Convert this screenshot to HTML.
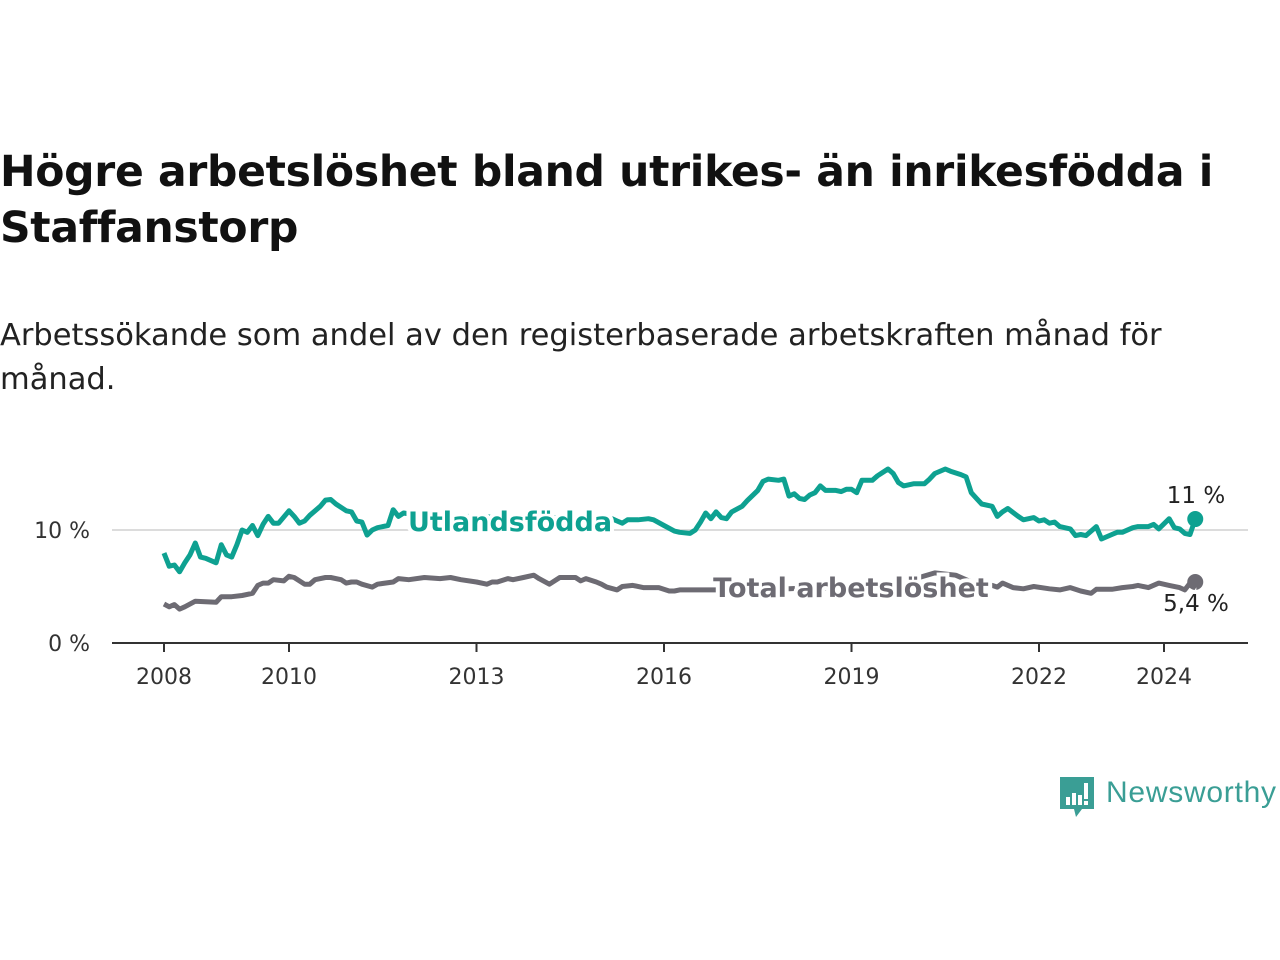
<!DOCTYPE html>
<html><head><meta charset="utf-8"><style>
body{margin:0;background:#fff;width:1280px;height:960px;overflow:hidden;font-family:"DejaVu Sans","Liberation Sans",sans-serif;}
#title{position:absolute;left:0;top:145px;font-size:42.5px;font-weight:bold;color:#111;line-height:56px;letter-spacing:-0.3px;width:1275px;margin:0}
#sub{position:absolute;left:0;top:314px;font-size:30.5px;color:#222;line-height:44px;width:1190px;margin:0}
svg{position:absolute;left:0;top:0}
</style></head><body>
<h1 id="title">Högre arbetslöshet bland utrikes- än inrikesfödda i Staffanstorp</h1>
<p id="sub">Arbetssökande som andel av den registerbaserade arbetskraften månad för månad.</p>
<svg id="chart" width="1280" height="960"></svg>
<script>
const tealMonths=[0,1,2,3,4,5,6,7,8,10,11,12,13,14,15,16,17,18,19,20,21,22,24,25,26,27,28,30,31,32,33,35,36,37,38,39,40,41,43,44,45,46,50,55,60,65,70,75,80,84,86,87,88,89,91,93,94,96,98,99,101,102,103,104,105,106,107,108,109,111,112,114,115,116,118,119,120,121,122,123,124,125,126,127,129,130,131,132,133,134,136,137,138,139,140,141,142,144,146,147,148,150,151,153,154,155,156,157,159,160,161,162,164,165,167,168,169,170,171,172,174,175,176,177,178,179,180,182,183,184,186,187,189,190,191,193,194,195,196,197,198];
const tealValues=[7.96,6.8,6.9,6.3,7.1,7.8,8.85,7.6,7.5,7.1,8.7,7.8,7.6,8.7,10.0,9.8,10.4,9.5,10.5,11.2,10.6,10.6,11.7,11.2,10.6,10.8,11.3,12.1,12.65,12.7,12.3,11.7,11.6,10.8,10.7,9.55,10.0,10.2,10.4,11.8,11.2,11.5,11.2,11.0,11.3,11.0,10.8,11.1,10.9,10.6,11.0,10.8,10.6,10.9,10.9,11.0,10.9,10.4,9.9,9.8,9.7,10.0,10.7,11.5,11.0,11.6,11.1,11.0,11.6,12.1,12.6,13.5,14.3,14.5,14.4,14.5,13.0,13.2,12.8,12.7,13.1,13.3,13.9,13.5,13.5,13.4,13.6,13.6,13.3,14.4,14.4,14.8,15.1,15.4,15.0,14.2,13.9,14.1,14.1,14.5,15.0,15.4,15.2,14.9,14.7,13.3,12.8,12.3,12.1,11.2,11.6,11.9,11.2,10.9,11.1,10.8,10.9,10.6,10.7,10.3,10.1,9.5,9.6,9.5,9.9,10.3,9.2,9.6,9.8,9.8,10.2,10.3,10.3,10.5,10.1,11.0,10.2,10.1,9.7,9.6,10.97];
const totalMonths=[0,1,2,3,4,6,10,11,13,15,17,18,19,20,21,23,24,25,27,28,29,31,32,34,35,36,37,38,40,41,44,45,47,50,53,55,57,60,62,63,64,66,67,69,71,72,74,76,79,80,81,83,84,85,87,88,90,92,93,95,97,98,99,103,106,110,115,120,125,130,135,141,145,148,152,157,159,160,161,163,165,167,170,172,174,176,178,179,182,184,186,187,189,191,193,195,196,197,198];
const totalValues=[3.45,3.2,3.4,3.0,3.2,3.7,3.6,4.1,4.1,4.2,4.4,5.1,5.3,5.3,5.6,5.5,5.9,5.8,5.2,5.2,5.6,5.8,5.8,5.6,5.3,5.4,5.4,5.2,4.95,5.2,5.4,5.7,5.6,5.8,5.7,5.8,5.6,5.4,5.2,5.4,5.4,5.7,5.6,5.8,6.0,5.7,5.2,5.8,5.8,5.5,5.7,5.4,5.2,4.95,4.7,5.0,5.1,4.9,4.9,4.9,4.6,4.6,4.7,4.7,4.7,4.8,4.9,4.8,4.9,4.8,4.9,5.3,5.8,6.2,6.0,5.0,5.1,4.95,5.3,4.9,4.8,5.0,4.8,4.7,4.9,4.6,4.4,4.75,4.75,4.9,5.0,5.1,4.9,5.3,5.1,4.9,4.7,5.3,5.4];
const yTicks=[0,10];
const yTickLabels=["0 %","10 %"];
const xTickYears=[2008,2010,2013,2016,2019,2022,2024];
const NS='http://www.w3.org/2000/svg';
const svg=document.getElementById('chart');
const x=m=>164+m*62.5/12;
const xy=yr=>164+(yr-2008)*62.5;
const y=v=>643-v*11.3;
function mk(t,a,txt){const e=document.createElementNS(NS,t);for(const k in a)e.setAttribute(k,a[k]);if(txt!=null)e.textContent=txt;svg.appendChild(e);return e;}
yTicks.forEach((v,i)=>{
 if(v>0){const g=mk('line',{x1:112,x2:1248,y1:y(v),y2:y(v),stroke:'#dcdcdc','stroke-width':2});
 
 }
 const t=mk('text',{x:90,y:y(v)+8,'text-anchor':'end','font-size':22,fill:'#333','font-family':'DejaVu Sans,sans-serif'},yTickLabels[i]);
 
 
});
const ax=mk('line',{x1:112,x2:1248,y1:643,y2:643,stroke:'#333','stroke-width':2});


xTickYears.forEach(yr=>{
 const tk=mk('line',{x1:xy(yr),x2:xy(yr),y1:643,y2:652,stroke:'#333','stroke-width':2});
 
 
 const t=mk('text',{x:xy(yr),y:684,'text-anchor':'middle','font-size':22,fill:'#333','font-family':'DejaVu Sans,sans-serif'},String(yr));
 
 
});
function line(ms,vs,col,name){
 const d=ms.map((m,i)=>(i?'L':'M')+x(m).toFixed(1)+','+y(vs[i]).toFixed(1)).join('');
 const p=mk('path',{d:d,fill:'none',stroke:col,'stroke-width':5,'stroke-linejoin':'round'});
 
 
 const n=ms.length-1;
 const c=mk('circle',{cx:x(ms[n]),cy:y(vs[n]),r:8,fill:col});
 
 
}
line(totalMonths,totalValues,'#6d6b73','total');
line(tealMonths,tealValues,'#0ea191','utlandsfodda');
const l1=mk('text',{x:510,y:531,'text-anchor':'middle','font-size':27,'font-weight':'bold',fill:'#0ea191',stroke:'#fff','stroke-width':8,'paint-order':'stroke','font-family':'DejaVu Sans,sans-serif'},'Utlandsfödda');


const l2=mk('text',{x:851,y:597,'text-anchor':'middle','font-size':27,'font-weight':'bold',fill:'#6d6b73',stroke:'#fff','stroke-width':8,'paint-order':'stroke','font-family':'DejaVu Sans,sans-serif'},'Total arbetslöshet');


const e1=mk('text',{x:1196,y:503,'text-anchor':'middle','font-size':23,fill:'#222','font-family':'DejaVu Sans,sans-serif'},'11 %');


const e2=mk('text',{x:1196,y:611,'text-anchor':'middle','font-size':23,fill:'#222',stroke:'#fff','stroke-width':5,'paint-order':'stroke','font-family':'DejaVu Sans,sans-serif'},'5,4 %');


</script>
<svg width="230" height="50" style="left:1058px;top:773px">
<path d="M2,4 H36 V36 H24 L18,44 L16,36 H2 Z" fill="#3a9e95"/>
<rect x="8" y="24" width="4" height="8" fill="#fff"/><rect x="14" y="20" width="4" height="12" fill="#fff"/><rect x="20" y="22" width="4" height="10" fill="#fff"/><rect x="26" y="10" width="4" height="16" fill="#fff"/><rect x="26" y="28" width="4" height="4" fill="#fff"/>
<text x="48" y="29" font-size="30" fill="#3a9e95" font-family="Liberation Sans,sans-serif" textLength="170">Newsworthy</text>
</svg>
</body></html>
